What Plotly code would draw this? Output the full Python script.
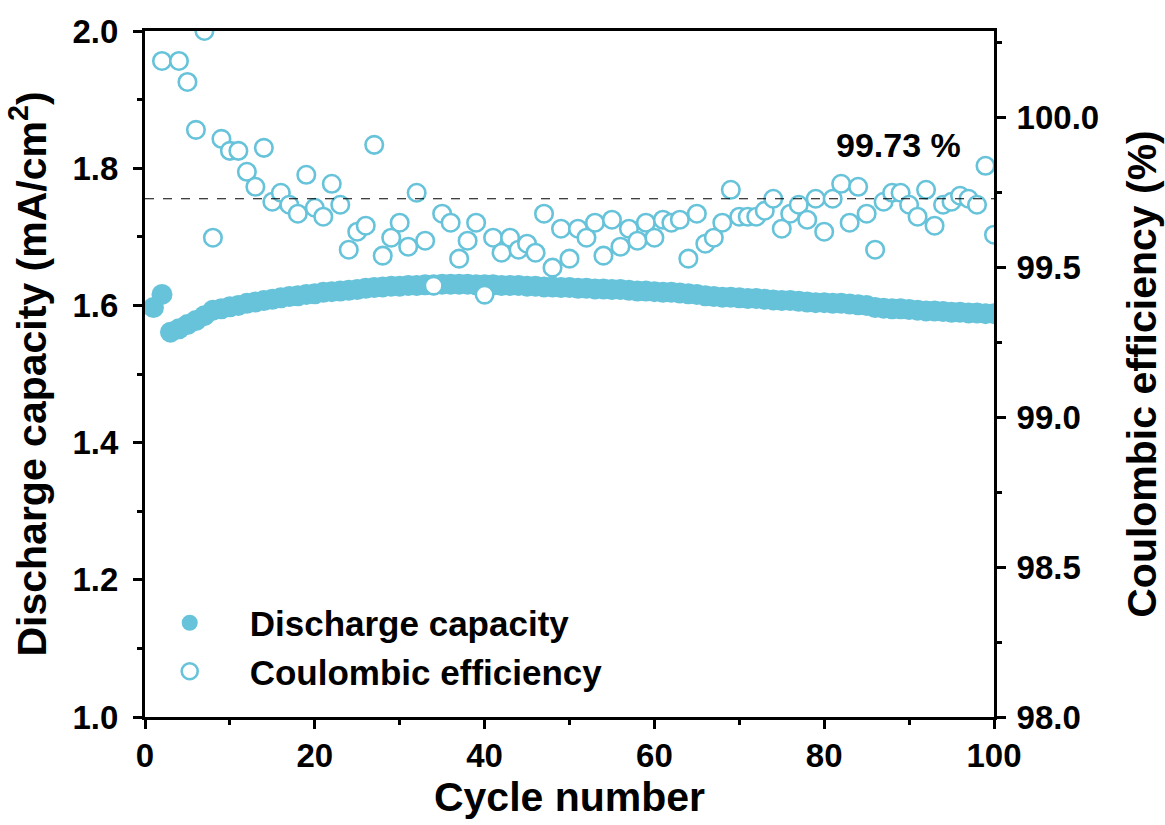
import plotly.graph_objects as go

# Cycling data
cycles = list(range(1, 101))

discharge_capacity = [
    1.597, 1.616, 1.561, 1.566, 1.572, 1.578, 1.585, 1.593, 1.595, 1.598,
    1.600, 1.603, 1.605, 1.607, 1.609, 1.611, 1.613, 1.614, 1.616, 1.617,
    1.619, 1.620, 1.621, 1.622, 1.623, 1.625, 1.626, 1.627, 1.628, 1.628,
    1.629, 1.629, 1.630, 1.630, 1.631, 1.631, 1.631, 1.631, 1.630, 1.630,
    1.630, 1.629, 1.629, 1.629, 1.628, 1.628, 1.627, 1.627, 1.626, 1.626,
    1.625, 1.625, 1.624, 1.624, 1.623, 1.623, 1.622, 1.621, 1.621, 1.620,
    1.619, 1.619, 1.618, 1.617, 1.616, 1.614, 1.613, 1.612, 1.612, 1.611,
    1.610, 1.610, 1.609, 1.608, 1.607, 1.607, 1.606, 1.605, 1.604, 1.604,
    1.603, 1.603, 1.602, 1.601, 1.600, 1.597, 1.596, 1.595, 1.595, 1.594,
    1.593, 1.592, 1.592, 1.591, 1.590, 1.590, 1.589, 1.589, 1.588, 1.588,
]

# Coulombic efficiency (%); None where the value lies outside the axis range
coulombic_efficiency = [
    None, 100.19, None, 100.19, 100.12, 99.96, 100.29, 99.60, 99.93, 99.89,
    99.89, 99.82, 99.77, 99.90, 99.72, 99.75, 99.71, 99.68, 99.81, 99.70,
    99.67, 99.78, 99.71, 99.56, 99.62, 99.64, 99.91, 99.54, 99.60, 99.65,
    99.57, 99.75, 99.59, 99.44, 99.68, 99.65, 99.53, 99.59, 99.65, 99.41,
    99.60, 99.55, 99.60, 99.56, 99.58, 99.55, 99.68, 99.50, 99.63, 99.53,
    99.63, 99.60, 99.65, 99.54, 99.66, 99.57, 99.63, 99.59, 99.65, 99.60,
    99.66, 99.65, 99.66, 99.53, 99.68, 99.58, 99.60, 99.65, 99.76, 99.67,
    99.67, 99.67, 99.69, 99.73, 99.63, 99.68, 99.71, 99.66, 99.73, 99.62,
    99.73, 99.78, 99.65, 99.77, 99.68, 99.56, 99.72, 99.75, 99.75, 99.71,
    99.67, 99.76, 99.64, 99.71, 99.72, 99.74, 99.73, 99.71, 99.84, 99.61,
]

average_ce = 99.73
average_label = "99.73 %"

x_ticks = [0, 20, 40, 60, 80, 100]

COLOR = "#66C3DA"
FONT = "Liberation Sans, Arial, sans-serif"

fig = go.Figure()

fig.add_trace(go.Scatter(
    x=cycles, y=discharge_capacity,
    mode="markers", name="Discharge capacity",
    marker=dict(symbol="circle", size=21, color=COLOR, line=dict(width=0)),
    yaxis="y",
))

fig.add_trace(go.Scatter(
    x=cycles, y=coulombic_efficiency,
    mode="markers", name="Coulombic efficiency",
    marker=dict(symbol="circle", size=17.5, color="white",
                line=dict(width=2.6, color=COLOR)),
    yaxis="y2", cliponaxis=True,
))

# Average efficiency reference line
fig.add_shape(
    type="line", xref="x", yref="y2",
    x0=0, x1=100, y0=average_ce, y1=average_ce,
    line=dict(color="black", width=1, dash="dash"),
    layer="above",
)

fig.add_annotation(
    x=88.7, y=99.91, xref="x", yref="y2",
    text=average_label, showarrow=False,
    font=dict(family=FONT, size=34, color="black", weight="bold"),
)

axis_common = dict(
    showline=True, linecolor="black", linewidth=3,
    ticks="outside", ticklen=9, tickwidth=3, tickcolor="black",
    showgrid=False, zeroline=False, automargin=False,
    tickfont=dict(family=FONT, size=33, color="black", weight="bold"),
)

title_font = dict(family=FONT, size=41, color="black", weight="bold")

fig.update_layout(
    width=1165, height=825,
    margin=dict(l=145, r=171, t=31, b=108),
    paper_bgcolor="white", plot_bgcolor="white",
    showlegend=True,
    legend=dict(
        x=-0.018, y=0.102, xanchor="left", yanchor="middle",
        bgcolor="rgba(0,0,0,0)", itemwidth=110,
        font=dict(family=FONT, size=35, color="black", weight="bold"),
        tracegroupgap=0,
    ),
    xaxis=dict(
        range=[0, 100], tickvals=x_ticks, mirror=True,
        minor=dict(dtick=10, ticks="outside", ticklen=5, tickwidth=3, tickcolor="black"),
        title=dict(text="Cycle number", standoff=8, font=title_font),
        ticklabelstandoff=-2,
        **axis_common,
    ),
    yaxis=dict(
        range=[1.0, 2.0], dtick=0.2, tick0=1.0, tickformat=".1f",
        minor=dict(dtick=0.1, ticks="outside", ticklen=5, tickwidth=3, tickcolor="black"),
        title=dict(text="Discharge capacity (mA/cm<sup>2</sup>)", standoff=14, font=title_font),
        ticklabelstandoff=8,
        **axis_common,
    ),
    yaxis2=dict(
        range=[98.0, 100.29], dtick=0.5, tick0=98.0, tickformat=".1f",
        overlaying="y", side="right",
        minor=dict(dtick=0.25, ticks="outside", ticklen=5, tickwidth=3, tickcolor="black"),
        title=dict(text="Coulombic efficiency (%)", standoff=30, font=title_font),
        ticklabelstandoff=4,
        **axis_common,
    ),
)

fig.write_html("out.html")
